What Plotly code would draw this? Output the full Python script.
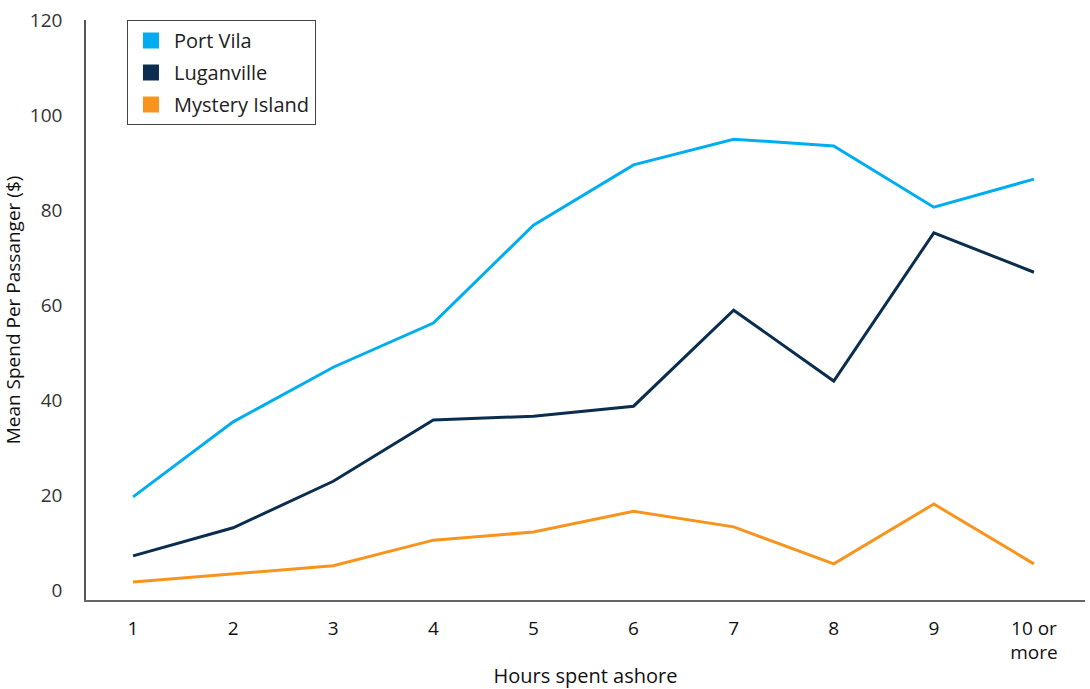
import plotly.graph_objects as go

categories = ["1", "2", "3", "4", "5", "6", "7", "8", "9", "10 or<br>more"]
port_vila = [19.6, 35.4, 46.9, 56.2, 76.8, 89.5, 94.9, 93.5, 80.6, 86.5]
luganville = [7.2, 13.1, 22.9, 35.8, 36.6, 38.7, 58.9, 44.0, 75.2, 66.9]
mystery_island = [1.7, 3.4, 5.1, 10.5, 12.2, 16.6, 13.3, 5.5, 18.1, 5.5]
y_ticks = [0, 20, 40, 60, 80, 100, 120]

series = [
    ("Port Vila", port_vila, "#00AEEF"),
    ("Luganville", luganville, "#0B2E4F"),
    ("Mystery Island", mystery_island, "#F7941D"),
]

FONT = "'Open Sans', sans-serif"

fig = go.Figure()
for name, vals, color in series:
    fig.add_trace(go.Scatter(
        x=categories, y=vals, mode="lines", name=name,
        line=dict(color=color, width=3), showlegend=False,
    ))
for name, vals, color in series:
    fig.add_trace(go.Scatter(
        x=[None], y=[None], mode="markers", name=name, legendgroup=name,
        marker=dict(symbol="square", size=24, color=color),
    ))

fig.update_layout(
    width=1090, height=689,
    paper_bgcolor="white", plot_bgcolor="white",
    margin=dict(l=86, r=5, t=20, b=89),
    font=dict(family=FONT, size=18, color="#111"),
    legend=dict(
        x=0.041, y=1.0, xanchor="left", yanchor="top",
        bordercolor="#444", borderwidth=1, bgcolor="white",
        font=dict(size=20, color="#222"),
        itemsizing="trace", tracegroupgap=3, itemwidth=36,
    ),
    xaxis=dict(
        type="category", range=[-0.47, 9.51],
        showgrid=False, zeroline=False, automargin=False,
        showline=True, linecolor="#666", linewidth=1.5,
        ticks="", ticklabelstandoff=10,
        tickfont=dict(size=19, color="#111"),
        title=dict(text="Hours spent ashore", font=dict(size=20, color="#111"), standoff=10),
    ),
    yaxis=dict(
        range=[-2.1, 120], tickvals=y_ticks,
        showgrid=False, zeroline=False, automargin=False,
        showline=True, linecolor="#555", linewidth=1.5,
        ticks="", ticklabelstandoff=18,
        tickfont=dict(size=19, color="#333"),
        title=dict(text="Mean Spend Per Passanger ($)", font=dict(size=19, color="#111"), standoff=10),
    ),
)

fig.write_html("out.html", config={"displayModeBar": False},
               post_script="document.body.style.margin='0';")
